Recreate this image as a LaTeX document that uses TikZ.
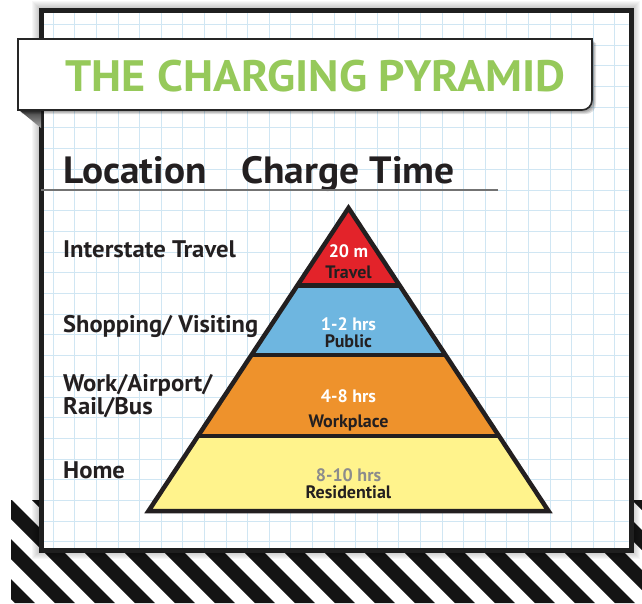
\documentclass[tikz,border=0pt]{standalone}
\usepackage{fontspec}
\setmainfont{PT Sans}
\usepackage{graphicx}
\definecolor{tgreen}{RGB}{150,201,90}
\definecolor{pred}{RGB}{227,35,42}
\definecolor{pblue}{RGB}{110,182,224}
\definecolor{porange}{RGB}{238,146,44}
\definecolor{pyellow}{RGB}{255,243,140}
\definecolor{txt}{RGB}{35,31,32}
\definecolor{gridc}{RGB}{208,230,243}
\definecolor{hrsgray}{RGB}{140,140,140}
\tikzset{
  lbl/.style={font=\bfseries\fontsize{24}{24}\selectfont, text=txt, anchor=base west, inner sep=0pt},
  head/.style={font=\bfseries\fontsize{38}{38}\selectfont, text=txt, anchor=base west, inner sep=0pt},
  ptxt/.style={font=\bfseries\fontsize{18}{18}\selectfont, anchor=base, inner sep=0pt},
  layer/.style={line width=4.5pt, line join=miter, draw=txt},
}
\begin{document}
\begin{tikzpicture}[x=1pt,y=-1pt]
\useasboundingbox (0,0) rectangle (642,603);
% stripes
\begin{scope}
\clip (11,500) rectangle (642,603);
\foreach \c in {-628,-588,...,172}{
  \fill[black!92] (\c+500,500) -- (\c+520,500) -- (\c+623,603) -- (\c+603,603) -- cycle;
}
\end{scope}
% soft shadow of frame
\foreach \i in {1,...,9}{
  \fill[black,opacity=0.03] (41-\i,10-\i) rectangle (631+\i,550+\i);
}
% frame
\fill[white] (41,10) rectangle (631,550);
\begin{scope}
\clip (43.5,12.5) rectangle (628.5,547.5);
\foreach \k in {0,...,26}{
  \draw[gridc, line width=0.9pt] ({53.3+21.6*\k},12.5) -- ({53.3+21.6*\k},547.5);
}
\foreach \k in {-8,...,17}{
  \draw[gridc, line width=0.9pt] (43.5,{190+20.7*\k}) -- (628.5,{190+20.7*\k});
}
\end{scope}
\draw[line width=5pt, draw=black!88] (41,10) rectangle (631,550);
% banner
\shade[top color=black!75, bottom color=black!35] (19,110) -- (41,110) -- (41,128) -- cycle;
\foreach \i in {1,...,4}{
  \fill[black,opacity=0.12] (18+\i,39+\i) -- (592+\i,39+\i) -- (592+\i,100+\i) arc[start angle=0,end angle=90,radius=10] -- (18+\i,110+\i) -- cycle;
}
\draw[fill=white, draw=black!85, line width=1.6pt] (18,39) -- (592,39) -- (592,100) arc[start angle=0,end angle=90,radius=10] -- (18,110) -- cycle;
\node[font=\bfseries\fontsize{44}{44}\selectfont, text=tgreen, anchor=base west, inner sep=0pt] (title) at (65,91) {\scalebox{1.05}[1]{THE CHARGING PYRAMID}};
% headings
\node[head] (loc) at (63,183) {\scalebox{1.035}[1]{Location}};
\node[head] (ct) at (241,183) {\scalebox{1.04}[1]{Charge Time}};
\draw[line width=2pt, draw=black!55] (41,190) -- (498,190);
% pyramid
\coordinate (A) at (348.5,208);
\coordinate (L1) at (297.3,285.5); \coordinate (R1) at (399.7,285.5);
\coordinate (L2) at (251.5,355);   \coordinate (R2) at (445.5,355);
\coordinate (L3) at (198,436);     \coordinate (R3) at (499,436);
\coordinate (BL) at (148.5,511);   \coordinate (BR) at (548.5,511);
\fill[pred] (A) -- (R1) -- (L1) -- cycle;
\fill[pblue] (L1) -- (R1) -- (R2) -- (L2) -- cycle;
\fill[porange] (L2) -- (R2) -- (R3) -- (L3) -- cycle;
\fill[pyellow] (L3) -- (R3) -- (BR) -- (BL) -- cycle;
\draw[layer] (L1) -- (R1);
\draw[layer] (L2) -- (R2);
\draw[layer] (L3) -- (R3);
\draw[layer] (A) -- (BR) -- (BL) -- cycle;
% pyramid texts
\node[ptxt, text=white] (t1a) at (348.5,257) {20 m};
\node[ptxt, text=txt] (t1b) at (348.5,278) {Travel};
\node[ptxt, text=white] (t2a) at (348.5,330) {1-2 hrs};
\node[ptxt, text=txt] (t2b) at (348.5,347) {Public};
\node[ptxt, text=white] (t3a) at (348.5,402) {4-8 hrs};
\node[ptxt, text=txt] (t3b) at (348.5,427) {Workplace};
\node[ptxt, text=hrsgray] (t4a) at (348.5,481) {8-10 hrs};
\node[ptxt, text=txt] (t4b) at (348.5,498) {Residential};
% left labels
\node[lbl] (l1) at (63,257) {\scalebox{1.03}[1]{Interstate Travel}};
\node[lbl] (l2) at (63,332) {\scalebox{1.02}[1]{Shopping/ Visiting}};
\node[lbl] (l3a) at (63,391) {\scalebox{1.03}[1]{Work/Airport/}};
\node[lbl] (l3b) at (63,414) {\scalebox{1.03}[1]{Rail/Bus}};
\node[lbl] (l4) at (63,478) {\scalebox{1.03}[1]{Home}};
\end{tikzpicture}
\end{document}
